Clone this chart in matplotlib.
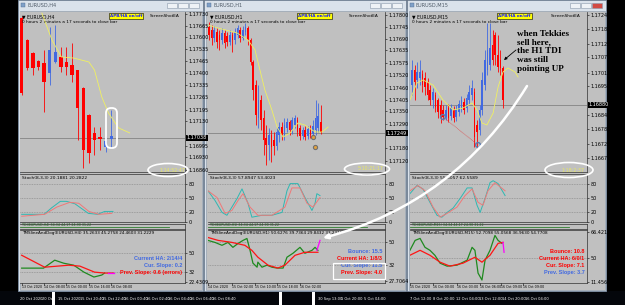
import matplotlib
matplotlib.use("Agg")
import matplotlib.pyplot as plt
from matplotlib.patches import Rectangle, Ellipse, FancyBboxPatch
import numpy as np

W, H = 625, 305

RED = "#ff0000"
BLUE = "#4169e1"
YEL = "#f0f060"
TEAL = "#2fb8b2"
SALMON = "#f07878"
GREEN = "#1f8a1f"
TDIRED = "#ff1414"
MAG = "#ff00ff"
GREY = "#c0c0c0"

# ---------------- EURUSD H4 ----------------
h4_open = [1.17708, 1.17585, 1.17512, 1.17468, 1.17456, 1.17401, 1.17462, 1.17490, 1.17462,
           1.17445, 1.17417, 1.17317, 1.17166, 1.17066, 1.17044, 1.16990, 1.17032]
h4_high = [1.17720, 1.17590, 1.17520, 1.17475, 1.17529, 1.17657, 1.17668, 1.17546, 1.17546,
           1.17568, 1.17420, 1.17320, 1.17170, 1.17099, 1.17099, 1.17050, 1.17194]
h4_low = [1.17280, 1.17417, 1.17389, 1.17420, 1.17183, 1.17334, 1.17455, 1.17406, 1.17389,
          1.17350, 1.17027, 1.16871, 1.16898, 1.16943, 1.16971, 1.16960, 1.16982]
h4_close = [1.17290, 1.17429, 1.17429, 1.17434, 1.17350, 1.17529, 1.17518, 1.17434, 1.17434,
            1.17389, 1.17205, 1.16971, 1.16954, 1.17027, 1.17032, 1.17020, 1.17049]
h4_ma_x = [3.6, 5.4, 7.1, 9.3, 12.0, 13.0, 14.3, 15.5, 17.3, 19.3]
h4_ma = [1.17735, 1.17585, 1.17490, 1.17484, 1.17462, 1.17417, 1.17267, 1.17177, 1.17094, 1.17066]
h4_price = 1.17038
h4_ticks = [1.17730, 1.17665, 1.17600, 1.17535, 1.17465, 1.17400, 1.17335, 1.17265,
            1.17195, 1.17130, 1.16995, 1.16930, 1.16860]
h4_stoch_k_x = [0, 4.0, 5.4, 6.9, 8.0, 9.5, 11.9, 13.6, 14.8, 16.3]
h4_stoch_k = [16, 16, 30, 43, 43, 38, 18, 16, 22, 22]
h4_stoch_d_x = [0, 4.1, 6.25, 8.6, 10.2, 12.0, 13.75, 16.1]
h4_stoch_d = [12, 16, 31, 41, 39, 22, 16, 18]
h4_tdi_green_x = [0, 3.9, 5.9, 7.5, 9.3, 11.1, 12.9, 14.3, 14.8]
h4_tdi_green = [35.8, 35.8, 43.4, 40.5, 38.6, 32.0, 27.3, 29.2, 31.1]
h4_tdi_red_x = [0, 4.1, 8.4, 10.4, 13.0, 14.8, 16.4]
h4_tdi_red = [48.1, 36.7, 38.6, 37.7, 32.0, 31.1, 31.1]
h4_tdi_mag_x = [15.5, 16.4]
h4_tdi_mag = [31.1, 31.1]
h4_dates = ["13 Oct 2020", "14 Oct 08:00", "15 Oct 00:00", "15 Oct 16:00", "16 Oct 08:00"]
h4_date_pos = [0, 4, 8, 12, 16]
h4_info = ["Current HA: 2/14/4", "Cur. Slope: 0.2", "Prev. Slope: 0.6 (errors)"]
h4_info_col = [BLUE, BLUE, RED]

# ---------------- EURUSD H1 ----------------
h1_open = [1.17744, 1.17730, 1.17693, 1.17721, 1.17707, 1.17683, 1.17716, 1.17702, 1.17674,
           1.17707, 1.17683, 1.17707, 1.17730, 1.17693, 1.17721, 1.17739, 1.17683, 1.17580,
           1.17473, 1.17319, 1.17403, 1.17319, 1.17226, 1.17193, 1.17240, 1.17216, 1.17188,
           1.17240, 1.17277, 1.17240, 1.17272, 1.17300, 1.17263, 1.17286, 1.17310, 1.17272,
           1.17235, 1.17263, 1.17235, 1.17263, 1.17244, 1.17263, 1.17272, 1.17300]
h1_high = [1.17767, 1.17753, 1.17749, 1.17739, 1.17730, 1.17739, 1.17730, 1.17721, 1.17730,
           1.17721, 1.17739, 1.17753, 1.17744, 1.17749, 1.17763, 1.17749, 1.17693, 1.17590,
           1.17496, 1.17473, 1.17426, 1.17356, 1.17286, 1.17272, 1.17263, 1.17254, 1.17272,
           1.17300, 1.17300, 1.17319, 1.17319, 1.17310, 1.17324, 1.17333, 1.17324, 1.17286,
           1.17277, 1.17282, 1.17282, 1.17286, 1.17310, 1.17403, 1.17389, 1.17380]
h1_low = [1.17683, 1.17660, 1.17674, 1.17646, 1.17637, 1.17665, 1.17646, 1.17655, 1.17660,
          1.17627, 1.17665, 1.17693, 1.17674, 1.17683, 1.17707, 1.17660, 1.17566, 1.17403,
          1.17286, 1.17272, 1.17263, 1.17146, 1.17100, 1.17123, 1.17113, 1.17146, 1.17170,
          1.17207, 1.17216, 1.17216, 1.17254, 1.17240, 1.17244, 1.17272, 1.17235, 1.17216,
          1.17221, 1.17216, 1.17221, 1.17226, 1.17226, 1.17240, 1.17254, 1.17244]
h1_close = [1.17707, 1.17693, 1.17730, 1.17674, 1.17683, 1.17716, 1.17669, 1.17674, 1.17707,
            1.17683, 1.17721, 1.17739, 1.17693, 1.17730, 1.17744, 1.17683, 1.17580, 1.17450,
            1.17333, 1.17403, 1.17310, 1.17216, 1.17193, 1.17240, 1.17184, 1.17188, 1.17254,
            1.17277, 1.17240, 1.17286, 1.17300, 1.17263, 1.17310, 1.17319, 1.17254, 1.17235,
            1.17263, 1.17230, 1.17268, 1.17240, 1.17282, 1.17319, 1.17328, 1.17254]
h1_ma_x = [-0.4, 3.5, 10.8, 15.0, 17.7, 19.6, 21.5, 24.2, 26.2, 28.5, 31.2, 34.2, 36.9, 40.8, 43.5, 45.8]
h1_ma = [1.17753, 1.17739, 1.17716, 1.17683, 1.17637, 1.17543, 1.17450, 1.17356, 1.17277,
         1.17230, 1.17249, 1.17296, 1.17286, 1.17254, 1.17254, 1.17277]
h1_price = 1.17249
h1_ticks = [1.17800, 1.17745, 1.17690, 1.17635, 1.17575, 1.17520, 1.17460, 1.17405,
            1.17350, 1.17290, 1.17180, 1.17120]
h1_marks_x = [40.0, 40.8]
h1_marks = [1.17230, 1.17184]
h1_stoch_k_x = [-0.4, 2.3, 5.0, 6.9, 8.8, 10.8, 12.7, 13.8, 15.0, 16.5, 20.4, 24.2, 28.1,
                30.0, 31.2, 34.2, 36.9, 39.6, 40.8, 41.5, 42.7]
h1_stoch_k = [65, 45, 20, 14, 31, 49, 69, 55, 39, 10, 14, 14, 20, 65, 80, 80, 51, 24, 39, 59, 55]
h1_stoch_d_x = [-0.4, 3.1, 6.2, 8.8, 11.2, 13.1, 15.8, 18.8, 24.2, 29.2, 31.9, 35.0, 37.7, 40.0, 42.7]
h1_stoch_d = [65, 51, 18, 24, 45, 59, 31, 14, 14, 31, 71, 71, 39, 31, 51]
h1_tdi_green_x = [-0.4, 2.3, 5.0, 7.3, 9.2, 11.2, 13.1, 14.6, 15.8, 16.9, 18.5, 18.8, 20.4,
                  22.3, 24.2, 26.2, 28.5, 30.0, 32.3, 35.0, 36.9, 39.6, 40.8, 41.9]
h1_tdi_green = [51.6, 50.0, 47.7, 50.0, 46.1, 49.2, 51.6, 53.1, 43.7, 33.6, 30.4, 34.4, 30.4,
                32.0, 30.4, 29.7, 29.7, 38.3, 41.4, 46.1, 41.4, 43.7, 46.1, 43.7]
h1_tdi_red_x = [-0.4, 3.5, 8.8, 13.8, 16.5, 18.8, 22.7, 26.5, 29.2, 33.1, 36.9, 40.8, 41.9]
h1_tdi_red = [53.9, 51.6, 50.0, 47.7, 43.7, 38.3, 32.0, 29.7, 32.0, 39.8, 42.2, 42.2, 42.2]
h1_tdi_mag_x = [41.5, 42.7]
h1_tdi_mag = [43.7, 51.6]
h1_dates = ["14 Oct 2020", "15 Oct 02:00", "15 Oct 10:00", "15 Oct 18:00", "16 Oct 02:00"]
h1_date_pos = [-0.4, 8.8, 17.7, 26.2, 35.0]
h1_info = ["Bounce: 15.5", "Current HA: 1/8/3", "Cur. Slope: 11.5", "Prev. Slope: 4.0"]
h1_info_col = [BLUE, RED, BLUE, RED]

# ---------------- EURUSD M15 ----------------
m15_open = [1.16960, 1.17020, 1.16980, 1.16988, 1.17004, 1.16988, 1.16972, 1.16940, 1.16900,
            1.16920, 1.16900, 1.16880, 1.16860, 1.16832, 1.16868, 1.16836, 1.16860, 1.16832,
            1.16852, 1.16868, 1.16892, 1.16868, 1.16900, 1.16920, 1.16932, 1.16800, 1.16780,
            1.16860, 1.16960, 1.17020, 1.17040, 1.17120, 1.17160, 1.17080, 1.17060, 1.17028]
m15_high = [1.17060, 1.17040, 1.17052, 1.17060, 1.17020, 1.17012, 1.16988, 1.16960, 1.16948,
            1.16932, 1.16908, 1.16900, 1.16880, 1.16880, 1.16884, 1.16884, 1.16876, 1.16880,
            1.16900, 1.16916, 1.16908, 1.16924, 1.16960, 1.16980, 1.16948, 1.16820, 1.16880,
            1.17012, 1.17100, 1.17208, 1.17208, 1.17180, 1.17172, 1.17160, 1.17100, 1.17036]
m15_low = [1.16920, 1.16900, 1.16948, 1.16960, 1.16932, 1.16920, 1.16900, 1.16880, 1.16868,
           1.16852, 1.16828, 1.16808, 1.16820, 1.16820, 1.16812, 1.16820, 1.16812, 1.16816,
           1.16836, 1.16852, 1.16844, 1.16852, 1.16884, 1.16900, 1.16712, 1.16700, 1.16760,
           1.16840, 1.16940, 1.17000, 1.17020, 1.17040, 1.17040, 1.17012, 1.17000, 1.16868]
m15_close = [1.17020, 1.16972, 1.17012, 1.17012, 1.16960, 1.16952, 1.16920, 1.16900, 1.16932,
             1.16872, 1.16852, 1.16832, 1.16832, 1.16860, 1.16828, 1.16868, 1.16828, 1.16860,
             1.16884, 1.16900, 1.16860, 1.16908, 1.16932, 1.16948, 1.16752, 1.16772, 1.16860,
             1.16980, 1.17060, 1.17100, 1.17108, 1.17060, 1.17080, 1.17032, 1.17028, 1.16900]
m15_ma_x = [-0.8, 1.9, 4.2, 8.1, 11.9, 15.8, 19.6, 23.1, 25.0, 26.9, 28.8, 31.2, 33.1, 35.0, 36.9, 39.6, 40.8]
m15_ma = [1.16900, 1.16968, 1.16980, 1.16960, 1.16900, 1.16860, 1.16868, 1.16888, 1.16860,
          1.16808, 1.16800, 1.16848, 1.16952, 1.17012, 1.17028, 1.17012, 1.16992]
m15_price = 1.16880
m15_ticks = [1.17240, 1.17185, 1.17125, 1.17070, 1.17010, 1.16955, 1.16840, 1.16785,
             1.16725, 1.16670]
m15_swing_x = [11.9, 25.4]
m15_swing = [1.16832, 1.16720]
m15_stoch_k_x = [-0.8, 1.9, 4.2, 6.9, 9.6, 11.5, 13.5, 15.8, 18.5, 21.2, 23.1, 25.0, 26.2,
                 28.1, 30.0, 31.2, 33.1, 35.8]
m15_stoch_k = [59, 76, 69, 41, 14, 10, 20, 29, 49, 71, 71, 35, 20, 49, 82, 86, 80, 55]
m15_stoch_d_x = [-0.8, 2.3, 5.0, 8.1, 10.8, 13.5, 17.3, 20.4, 23.1, 25.4, 27.3, 29.2, 31.9, 35.8]
m15_stoch_d = [65, 76, 65, 31, 10, 18, 31, 55, 69, 41, 35, 65, 82, 65]
m15_tdi_green_x = [-0.8, 1.2, 3.1, 5.0, 6.9, 8.8, 10.8, 13.5, 17.3, 21.2, 23.1, 24.2, 25.4,
                   26.9, 28.1, 30.0, 31.9, 33.1, 34.6]
m15_tdi_green = [58, 68, 70, 61, 58, 53, 45, 42, 43, 48, 61, 58, 35, 28, 48, 58, 73, 68, 65]
m15_tdi_red_x = [-0.8, 3.1, 6.9, 10.8, 14.6, 19.6, 24.2, 26.9, 30.0, 33.1, 35.0]
m15_tdi_red = [53, 58, 53, 46, 42, 45, 51, 46, 53, 65, 66]
m15_tdi_mag_x = [35.0, 35.4]
m15_tdi_mag = [66, 56]
m15_dates = ["15 Oct 2020", "16 Oct 00:00", "16 Oct 03:00", "16 Oct 06:00", "16 Oct 09:00", "16 Oct 09:00"]
m15_date_pos = [-0.8, 8.1, 17.3, 26.2, 34.2, 42.7]
m15_info = ["Bounce: 10.8", "Current HA: 6/0/1", "Cur. Slope: 7.1", "Prev. Slope: 3.7"]
m15_info_col = [RED, RED, RED, BLUE]

taskbar_text = ["20 Oct 2020", "20 Oct", "15 Oct 2020", "15 Oct 20:40", "15 Oct 22:40",
                "16 Oct 00:40", "16 Oct 02:40", "16 Oct 04:40", "16 Oct 06:40", "16 Oct 08:40",
                "30 Sep 13:00", "1 Oct 20:00", "5 Oct 04:00", "7 Oct 12:00", "8 Oct 20:00",
                "12 Oct 04:00", "13 Oct 12:00", "14 Oct 20:00", "16 Oct 04:00"]
taskbar_pos = [20, 42, 58, 80, 102, 124, 146, 168, 190, 212, 318, 341, 364, 410, 433, 456, 479, 502, 525]

fig = plt.figure(figsize=(W / 100, H / 100), dpi=100, facecolor="black")


def rect(x0, y0, x1, y1):
    return [x0 / W, 1 - y1 / H, (x1 - x0) / W, (y1 - y0) / H]


bg = fig.add_axes([0, 0, 1, 1], zorder=0)
bg.set_xlim(0, W)
bg.set_ylim(H, 0)
bg.axis("off")
bg.add_patch(Rectangle((0, 291), W, 14, fc="#04060b", ec="none"))
for t, x in zip(taskbar_text, taskbar_pos):
    bg.text(x, 299, t, fontsize=2.6, color="white", va="center")
for x in [52, 279, 312]:
    bg.add_patch(Rectangle((x, 292), 2.5, 13, fc="white", ec="none"))


def panel(x0, x1, y0, y1, xlim, ylim, top=True):
    ax = fig.add_axes(rect(x0, y0, x1, y1), zorder=2)
    ax.set_facecolor(GREY)
    ax.set_xlim(xlim)
    ax.set_ylim(ylim)
    ax.set_xticks([])
    ax.yaxis.tick_right()
    ax.tick_params(axis="y", labelsize=3.5, length=1.5, width=0.4, pad=1)
    ax.spines["left"].set_visible(False)
    ax.spines["top"].set_visible(top)
    for s in ["right", "bottom", "top"]:
        ax.spines[s].set_color("#303030")
        ax.spines[s].set_linewidth(0.5)
    return ax


def window(x0, x1, px0, px1, xlim, title, tf, o, h, l, c, width, ma_x, ma, price, ticks,
           main_ylim, sk_x, sk, sd_x, sd, g_x, g, r_x, r, m_x, m, tdi_ylim, tdi_ticks,
           tdi_labels, dates, date_pos, info, info_col, stoch_txt, tdi_txt, levels, apb_x):
    # window chrome
    bg.add_patch(Rectangle((x0, 0), x1 - x0, 291, fc="#dae2eb", ec="#7d8ea3", lw=0.6))
    bg.add_patch(Rectangle((x0 + 1.5, 11), x1 - x0 - 3, 278.5, fc=GREY, ec="#8795a6", lw=0.4))
    bg.add_patch(Rectangle((x0 + 2.5, 3), 4, 4, fc="#7fa0c8", ec="#506c90", lw=0.3))
    bg.text(x0 + 9, 5.2, title, fontsize=3.6, color="#4f5b68", va="center")
    for k, bx in enumerate([x1 - 36, x1 - 25, x1 - 14]):
        fc = "#d24a43" if (tf == "M15" and k == 2) else "#eef2f6"
        bg.add_patch(Rectangle((bx, 2.5), 9.5, 5, fc=fc, ec="#8a98aa", lw=0.4))

    # main chart
    ax = panel(px0, px1, 12, 172, xlim, main_ylim, top=False)
    idx = np.arange(len(o))
    oa, ha, la, ca = map(np.asarray, (o, h, l, c))
    cols = np.where(ca >= oa, BLUE, RED)
    ax.axhline(price, color="#8c8c8c", lw=0.7, zorder=1)
    ax.vlines(idx, la, ha, colors=cols, lw=0.6, zorder=3)
    body = np.maximum(np.abs(ca - oa), (main_ylim[1] - main_ylim[0]) * 0.004)
    ax.bar(idx, body, width, bottom=np.minimum(oa, ca), color=cols, lw=0, zorder=3)
    ax.plot(ma_x, ma, color=YEL, lw=0.6, zorder=4)
    ax.set_yticks(ticks)
    ax.set_yticklabels(["%.5f" % t for t in ticks])
    ax.text(1.01, price, "%.5f" % price, transform=ax.get_yaxis_transform(), fontsize=3.5,
            color="white", va="center", ha="left",
            bbox=dict(fc="black", ec="none", boxstyle="square,pad=0.15"))
    ax.text(0.012, 0.985, "\u25bc EURUSD," + tf, transform=ax.transAxes, fontsize=3.3, va="top")
    ax.text(0.012, 0.95, "0 hours 2 minutes a 17 seconds to close bar", transform=ax.transAxes,
            fontsize=3.1, va="top")
    ax.text(0.965, 0.985, "ScreenShotEA", transform=ax.transAxes, fontsize=3.1, va="top", ha="right")
    ax.text(apb_x, 0.985, "APB/HA on/off", transform=ax.transAxes, fontsize=3.0, va="top",
            ha="left", color="#1a1aff", fontweight="bold",
            bbox=dict(fc="#ffff00", ec="black", lw=0.4, boxstyle="square,pad=0.25"))

    # stochastic
    st = panel(px0, px1, 174, 222, xlim, (0, 100))
    for lv in [80, 50, 20]:
        st.axhline(lv, color="#7a7a7a", lw=0.4, ls=(0, (1.5, 1.5)))
    st.plot(sk_x, sk, color=TEAL, lw=0.7)
    st.plot(sd_x, sd, color=SALMON, lw=0.7)
    st.set_yticks([80, 50, 20, 0])
    st.set_yticklabels(["80", "50", "20", "0"])
    st.text(0.012, 0.96, stoch_txt, transform=st.transAxes, fontsize=3.2, va="top")

    # thin strip
    sp = panel(px0, px1, 223.5, 228.5, xlim, (0, 1))
    sp.set_yticks([])
    sp.axhline(0.3, xmax=0.9, color="#2f7f2f", lw=0.6)
    sp.text(0.012, 0.62, "TDI(EURUSD," + tf + ") 34.34 44.17 24.90 31.22",
            transform=sp.transAxes, fontsize=2.3, va="center", color="#1f5f1f")

    # TDI
    td = panel(px0, px1, 229.5, 283, xlim, tdi_ylim)
    for lv in levels:
        td.axhline(lv, color="#7a7a7a", lw=0.4, ls=(0, (1.5, 1.5)))
    td.plot(g_x, g, color=GREEN, lw=0.9)
    td.plot(r_x, r, color=TDIRED, lw=0.9)
    td.plot(m_x, m, color=MAG, lw=0.9)
    td.set_yticks(tdi_ticks)
    td.set_yticklabels(tdi_labels)
    td.text(0.012, 0.97, tdi_txt, transform=td.transAxes, fontsize=3.0, va="top")
    n = len(info)
    for k, (t, col) in enumerate(zip(info, info_col)):
        td.text(0.985, 0.467 - (k - (n - 3)) * 0.131, t, transform=td.transAxes, ha="right",
                va="center", fontsize=4.0, color=col, fontweight="bold",
                family="Liberation Sans")
    for t, p in zip(dates, date_pos):
        td.text(p, -0.03, t, transform=td.get_xaxis_transform(), fontsize=2.35, va="top", ha="left")
        td.plot([p, p], [0, -0.04], transform=td.get_xaxis_transform(), color="black",
                lw=0.4, clip_on=False)
    return ax


a1 = window(18, 203, 20, 185, (-0.3, 29.16), "EURUSD,H4", "H4", h4_open, h4_high, h4_low, h4_close,
            0.6, h4_ma_x, h4_ma, h4_price, h4_ticks, (1.16848, 1.17741),
            h4_stoch_k_x, h4_stoch_k, h4_stoch_d_x, h4_stoch_d,
            h4_tdi_green_x, h4_tdi_green, h4_tdi_red_x, h4_tdi_red, h4_tdi_mag_x, h4_tdi_mag,
            (21.6, 72.7), [50, 32, 22.43], ["50", "32", "22.4309"], h4_dates, h4_date_pos,
            h4_info, h4_info_col, "Stoch(8,3,3) 20.1881 20.2822",
            "TMSlineAndDog(EURUSD,H4) 35.2633 45.2758 24.4603 31.2229", [50, 32], 0.545)
a2 = window(204, 406, 208, 385, (-0.38, 67.7), "EURUSD,H1", "H1", h1_open, h1_high, h1_low, h1_close,
            0.62, h1_ma_x, h1_ma, h1_price, h1_ticks, (1.17067, 1.17814),
            h1_stoch_k_x, h1_stoch_k, h1_stoch_d_x, h1_stoch_d,
            h1_tdi_green_x, h1_tdi_green, h1_tdi_red_x, h1_tdi_red, h1_tdi_mag_x, h1_tdi_mag,
            (17.9, 60.2), [50, 32, 19.5], ["50", "32", "27.7064"], h1_dates, h1_date_pos,
            h1_info, h1_info_col, "Stoch(8,3,3) 57.8947 53.4023",
            "TMSlineAndDog(EURUSD,H1) 50.6276 39.7364 29.8432 33.2316", [50, 32], 0.51)
a2.scatter(h1_marks_x, h1_marks, s=9, facecolor="#e0a040", edgecolor="#707070", lw=0.8, zorder=5)
a3 = window(407, 606, 410, 587, (-0.77, 67.3), "EURUSD,M15", "M15", m15_open, m15_high, m15_low,
            m15_close, 0.62, m15_ma_x, m15_ma, m15_price, m15_ticks, (1.16612, 1.17252),
            m15_stoch_k_x, m15_stoch_k, m15_stoch_d_x, m15_stoch_d,
            m15_tdi_green_x, m15_tdi_green, m15_tdi_red_x, m15_tdi_red, m15_tdi_mag_x, m15_tdi_mag,
            (25, 79), [76.5, 50, 26.5], ["66.4215", "50", "11.4560"], m15_dates, m15_date_pos,
            m15_info, m15_info_col, "Stoch(8,3,3) 55.6057 62.5589",
            "TMSlineAndDog(EURUSD,M15) 52.7098 55.0568 36.9630 54.7708", [50], 0.50)
a3.plot(m15_swing_x, m15_swing, color="#e04040", lw=0.5, ls=(0, (1, 1)), zorder=4)
a3.scatter(m15_swing_x, m15_swing, s=12, facecolor="none", edgecolor="#5a7ab0", lw=1.0, zorder=5)

# ---------------- hand-drawn annotations ----------------
ov = fig.add_axes([0, 0, 1, 1], zorder=10)
ov.set_xlim(0, W)
ov.set_ylim(H, 0)
ov.axis("off")
ov.patch.set_alpha(0)

ov.add_patch(FancyBboxPatch((106, 108), 11, 40, boxstyle="round,pad=0,rounding_size=5",
                            fc="none", ec="white", lw=1.3))
for cx, cy, w, h, txt in [(168, 170, 40, 13, "1:14:52:47"), (367, 169, 45, 12, "5:10:21:17"),
                          (569, 170, 48, 15, "1:18:2:37")]:
    ov.add_patch(Ellipse((cx, cy), w, h, fc="none", ec="white", lw=1.2))
    ov.text(cx + 4, cy, txt, fontsize=3.4, color="#e8e860", ha="center", va="center")
ov.add_patch(Rectangle((333, 263), 52, 16, fc="none", ec="white", lw=0.9))

ov.annotate("", xy=(323, 238), xytext=(527, 86),
            arrowprops=dict(arrowstyle="-|>", color="white", lw=1.8, mutation_scale=7,
                            connectionstyle="arc3,rad=-0.2", shrinkA=0, shrinkB=0))
ov.annotate("", xy=(504, 60), xytext=(516, 50),
            arrowprops=dict(arrowstyle="-|>", color="black", lw=0.6, mutation_scale=4,
                            shrinkA=0, shrinkB=0))
ov.text(517, 30, "when Tekkies\nsell here,\nthe H1 TDI\nwas still\npointing UP",
        fontsize=6.6, family="Liberation Serif", fontweight="bold", va="top", ha="left",
        linespacing=1.12, color="black")

fig.savefig("out.png", dpi=100, facecolor="black")
